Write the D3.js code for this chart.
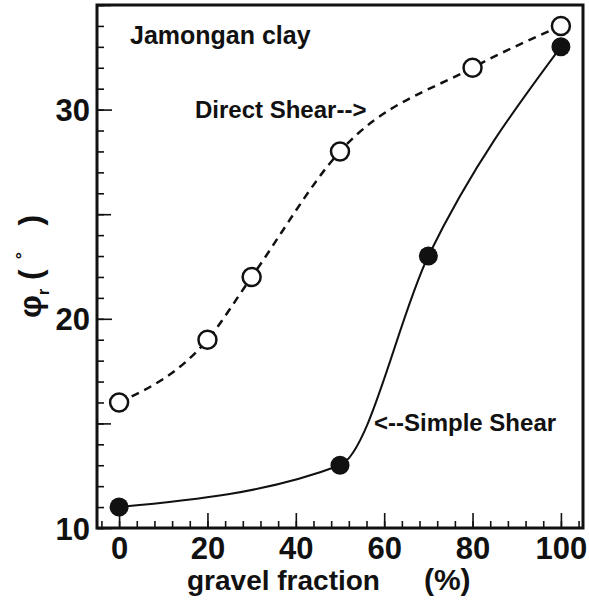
<!DOCTYPE html>
<html>
<head>
<meta charset="utf-8">
<script src="https://cdn.jsdelivr.net/npm/d3@7"></script>
<style>
  body { margin: 0; background: #fff; }
  svg text { font-family: "Liberation Sans", Arial, Helvetica, sans-serif; font-weight: bold; fill: #111; }
</style>
</head>
<body>
<svg id="chart" width="589" height="606"></svg>
<script>
// gravel fraction (%) vs residual friction angle (deg)
var direct_x = [0, 20, 30, 50, 80, 100];
var direct_y = [16, 19, 22, 28, 32, 34];
var simple_x = [0, 50, 70, 100];
var simple_y = [11, 13, 23, 33];

var x_ticks = [0, 20, 40, 60, 80, 100];
var y_ticks = [10, 20, 30];

var svg = d3.select('#chart');
var INK = '#111';

var x = d3.scaleLinear().domain([-5, 105]).range([97, 583]);
var y = d3.scaleLinear().domain([10, 35]).range([528, 5]);

function pts(xs, ys){
  return xs.map(function(v, i){ return {x: v, y: ys[i]}; });
}
var direct = pts(direct_x, direct_y);
var simple = pts(simple_x, simple_y);

// minor ticks
svg.append('g')
  .attr('class', 'axis')
  .attr('transform', 'translate(' + x.range()[0] + ',0)')
  .call(d3.axisLeft(y).tickValues(d3.range(10, 35.01, 1)).tickSize(-7).tickFormat(''));
svg.append('g')
  .attr('class', 'axis')
  .attr('transform', 'translate(' + x.range()[0] + ',0)')
  .call(d3.axisLeft(y).tickValues([15, 25, 35]).tickSize(-14).tickFormat(''));
svg.append('g')
  .attr('class', 'axis')
  .attr('transform', 'translate(0,' + y.range()[0] + ')')
  .call(d3.axisBottom(x).tickValues(d3.range(-4, 105, 4)).tickSize(-7).tickFormat(''));

// major ticks + labels
var yAxis = svg.append('g')
  .attr('class', 'axis')
  .attr('transform', 'translate(' + x.range()[0] + ',0)')
  .call(d3.axisLeft(y).tickValues(y_ticks).tickSize(-15).tickPadding(7));
var xAxis = svg.append('g')
  .attr('class', 'axis')
  .attr('transform', 'translate(0,' + y.range()[0] + ')')
  .call(d3.axisBottom(x).tickValues(x_ticks).tickSize(-15).tickPadding(9));

svg.selectAll('.axis path.domain').remove();
svg.selectAll('.axis line').attr('stroke', INK).attr('stroke-width', 1.6);
svg.selectAll('.axis text')
  .attr('font-family', '"Liberation Sans", Arial, sans-serif')
  .attr('font-weight', 'bold')
  .attr('font-size', 31)
  .attr('fill', INK);
yAxis.selectAll('text').attr('dy', '0.36em');

// frame
svg.append('rect')
  .attr('x', x.range()[0])
  .attr('y', y.range()[1])
  .attr('width', x.range()[1] - x.range()[0])
  .attr('height', y.range()[0] - y.range()[1])
  .attr('fill', 'none')
  .attr('stroke', INK)
  .attr('stroke-width', 3);

// curves
var line = d3.line()
  .x(d => x(d.x))
  .y(d => y(d.y))
  .curve(d3.curveMonotoneX);

svg.append('path')
  .datum(simple)
  .attr('d', line)
  .attr('fill', 'none')
  .attr('stroke', INK)
  .attr('stroke-width', 2);

svg.append('path')
  .datum(direct)
  .attr('d', line)
  .attr('fill', 'none')
  .attr('stroke', INK)
  .attr('stroke-width', 2.5)
  .attr('stroke-dasharray', '8,6');

svg.selectAll('.simple_pt')
  .data(simple)
  .enter()
  .append('circle')
  .attr('class', 'simple_pt')
  .attr('cx', d => x(d.x))
  .attr('cy', d => y(d.y))
  .attr('r', 9.5)
  .attr('fill', INK);

svg.selectAll('.direct_pt')
  .data(direct)
  .enter()
  .append('circle')
  .attr('class', 'direct_pt')
  .attr('cx', d => x(d.x))
  .attr('cy', d => y(d.y))
  .attr('r', 9)
  .attr('fill', '#fff')
  .attr('stroke', INK)
  .attr('stroke-width', 2.5);

// labels
svg.append('text')
  .attr('x', 130)
  .attr('y', 44)
  .attr('font-size', 25)
  .text('Jamongan clay');

svg.append('text')
  .attr('x', 195)
  .attr('y', 118)
  .attr('font-size', 24)
  .text('Direct Shear-->');

svg.append('text')
  .attr('x', 374)
  .attr('y', 431)
  .attr('font-size', 24)
  .text('<--Simple Shear');

var xlab = svg.append('text')
  .attr('x', 187)
  .attr('y', 590)
  .attr('font-size', 28);
xlab.append('tspan').text('gravel fraction');
xlab.append('tspan').attr('dx', 44).attr('font-size', 30).text('(%)');

var ylab = svg.append('text')
  .attr('transform', 'translate(41,318) rotate(-90)')
  .attr('font-size', 32)
  .attr('font-weight', 'normal')
  .attr('xml:space', 'preserve');
ylab.append('tspan').text('\u03c6');
ylab.append('tspan').attr('font-size', 16).attr('dy', 8).text('r');
ylab.append('tspan').attr('dy', -8).text(' (');
ylab.append('tspan').attr('font-size', 18).attr('dy', -13).text('  \u00b0');
ylab.append('tspan').attr('dy', 13).text('   )');
</script>
</body>
</html>
